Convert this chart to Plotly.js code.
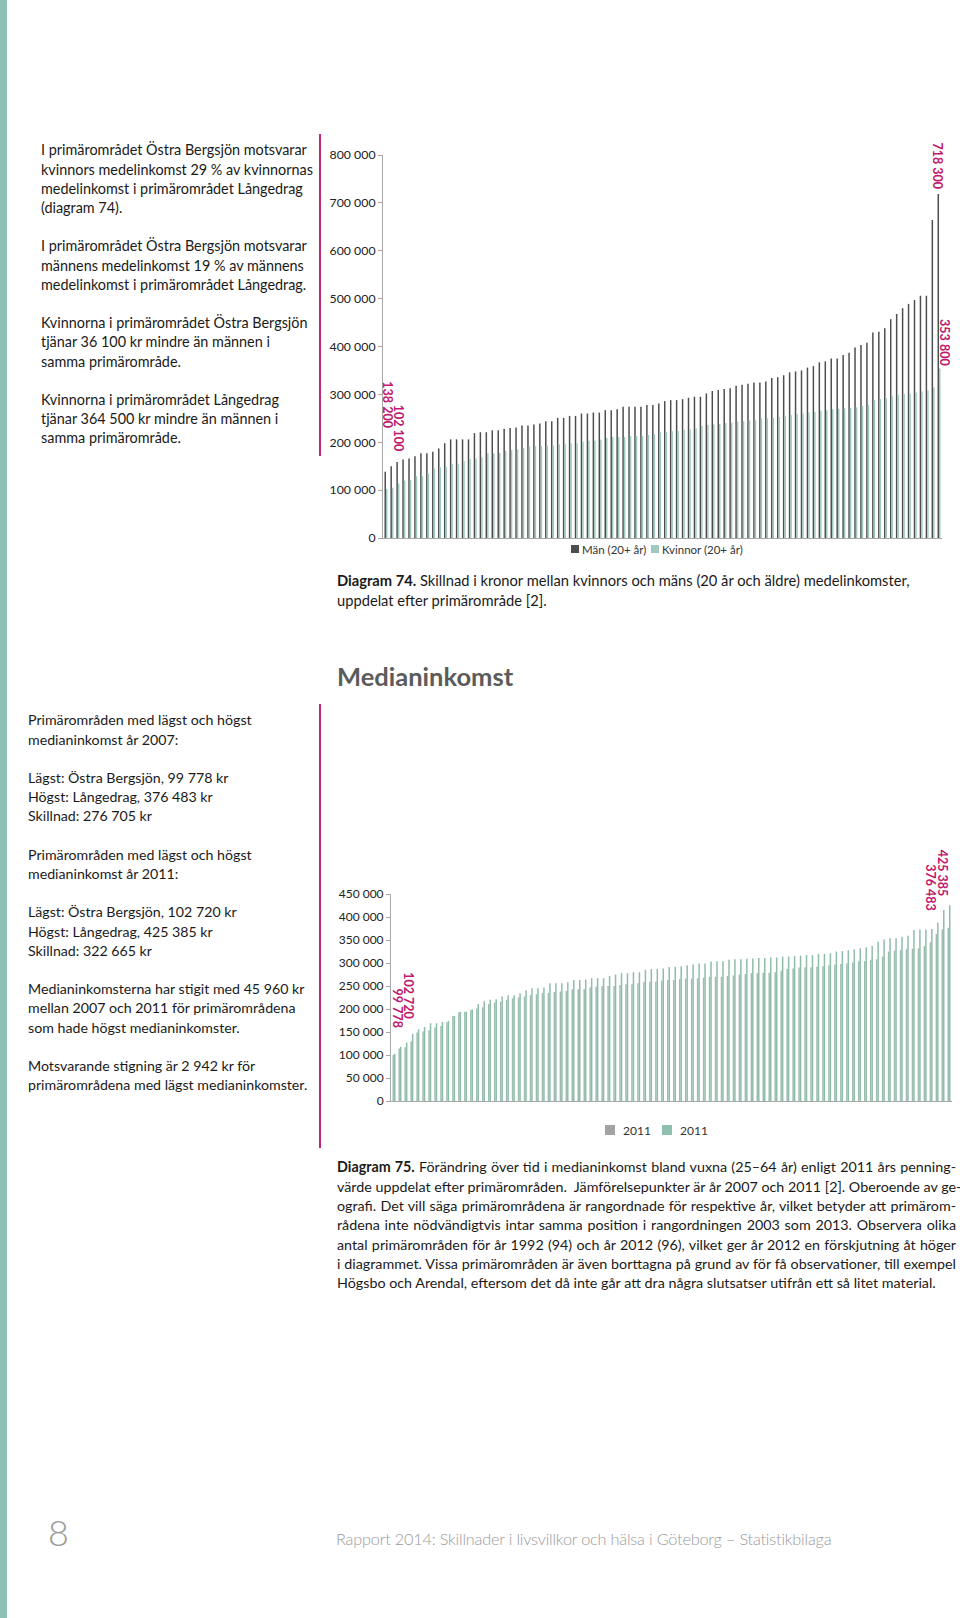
<!DOCTYPE html>
<html>
<head>
<meta charset="utf-8">
<script src="https://cdn.plot.ly/plotly-3.0.1.min.js"></script>
<style>
  html, body { margin:0; padding:0; background:#fff; }
  #page { position:relative; width:960px; height:1618px; overflow:hidden; background:#fff;
          font-family: Lato, "Open Sans", "DejaVu Sans", sans-serif; color:#1a1a1a; }
  #chart { position:absolute; left:0; top:0; width:960px; height:1618px; }
  .txt { position:absolute; font-size:14px; line-height:19.2px; white-space:nowrap; }
  .cap { position:absolute; font-size:14px; line-height:19.3px; }
  .cap div { white-space:nowrap; }
  .just div { text-align:justify; text-align-last:justify; }
  .just div.last { text-align-last:left; }
</style>
</head>
<body>
<div id="page">
  <div id="chart"></div>

  <div class="txt" style="left:41px; top:140.4px; font-size:14.4px;">
    I primärområdet Östra Bergsjön motsvarar<br>
    kvinnors medelinkomst 29 % av kvinnornas<br>
    medelinkomst i primärområdet Långedrag<br>
    (diagram 74).<br><br>
    I primärområdet Östra Bergsjön motsvarar<br>
    männens medelinkomst 19 % av männens<br>
    medelinkomst i primärområdet Långedrag.<br><br>
    Kvinnorna i primärområdet Östra Bergsjön<br>
    tjänar 36 100 kr mindre än männen i<br>
    samma primärområde.<br><br>
    Kvinnorna i primärområdet Långedrag<br>
    tjänar 364 500 kr mindre än männen i<br>
    samma primärområde.
  </div>

  <div class="cap" style="left:337px; top:571.4px; line-height:19.2px; font-size:14.7px;">
    <div><b>Diagram 74.</b> Skillnad i kronor mellan kvinnors och mäns (20 år och äldre) medelinkomster,</div>
    <div>uppdelat efter primärområde [2].</div>
  </div>

  <div style="position:absolute; left:337px; top:661px; font-size:25.5px; line-height:30px; font-weight:700; color:#5b5b5b;">Medianinkomst</div>

  <div class="txt" style="left:28px; top:710.4px; font-size:14.2px;">
    Primärområden med lägst och högst<br>
    medianinkomst år 2007:<br><br>
    Lägst: Östra Bergsjön, 99 778 kr<br>
    Högst: Långedrag, 376 483 kr<br>
    Skillnad: 276 705 kr<br><br>
    Primärområden med lägst och högst<br>
    medianinkomst år 2011:<br><br>
    Lägst: Östra Bergsjön, 102 720 kr<br>
    Högst: Långedrag, 425 385 kr<br>
    Skillnad: 322 665 kr<br><br>
    Medianinkomsterna har stigit med 45 960 kr<br>
    mellan 2007 och 2011 för primärområdena<br>
    som hade högst medianinkomster.<br><br>
    Motsvarande stigning är 2 942 kr för<br>
    primärområdena med lägst medianinkomster.
  </div>

  <div class="cap just" style="left:337px; top:1157.4px; width:619px; font-size:14.3px;">
    <div><b>Diagram 75.</b> Förändring över tid i medianinkomst bland vuxna (25–64 år) enligt 2011 års penning-</div>
    <div>värde uppdelat efter primärområden.&nbsp; Jämförelsepunkter är år 2007 och 2011 [2]. Oberoende av ge-</div>
    <div>ografi. Det vill säga primärområdena är rangordnade för respektive år, vilket betyder att primärom-</div>
    <div>rådena inte nödvändigtvis intar samma position i rangordningen 2003 som 2013. Observera olika</div>
    <div>antal primärområden för år 1992 (94) och år 2012 (96), vilket ger år 2012 en förskjutning åt höger</div>
    <div>i diagrammet. Vissa primärområden är även borttagna på grund av för få observationer, till exempel</div>
    <div class="last">Högsbo och Arendal, eftersom det då inte går att dra några slutsatser utifrån ett så litet material.</div>
  </div>

  <div style="position:absolute; left:48px; top:1512px; font-size:36px; line-height:40px; font-weight:300; color:#9a9a9a;">8</div>
  <div style="position:absolute; left:336px; top:1529px; font-size:16.3px; line-height:20px; font-weight:300; color:#9a9a9a; white-space:nowrap; letter-spacing:-0.2px;">Rapport 2014: Skillnader i livsvillkor och hälsa i Göteborg – Statistikbilaga</div>
</div>

<script>
// ---------- Diagram 74: medelinkomst per primärområde (rangordnat) ----------
const menIncome = [138200,150000,159000,164000,166000,171000,177000,177000,180000,187000,
  198000,206000,206000,206000,206000,219000,221000,221000,225000,225000,
  228000,230000,231000,235000,235000,237000,239000,244000,244000,251000,
  251000,255000,255000,260000,260000,262000,262000,267000,267000,269000,
  274000,274000,274000,274000,278000,278000,281000,
  286000,288000,288000,290000,293000,295000,295000,302000,307000,309000,
  311000,313000,318000,320000,322000,325000,325000,327000,334000,336000,
  340000,346000,348000,350000,356000,359000,367000,369000,375000,375000,
  382000,387000,398000,403000,408000,429000,431000,438000,457000,468000,
  480000,489000,497000,506000,506000,664000,718300];
const womenIncome = [102100,105000,114000,120000,121000,129000,129000,134000,145000,148000,
  149000,155000,155000,161000,165000,166000,168000,177000,177000,178000,
  182000,184000,185000,188000,191000,192000,192000,193000,193000,196000,
  196000,198000,198000,201000,203000,203000,205000,209000,211000,211000,
  211000,213000,213000,213000,215000,217000,221000,
  222000,223000,223000,226000,227000,229000,234000,236000,237000,238000,
  240000,241000,243000,244000,246000,246000,250000,250000,251000,253000,
  255000,257000,259000,260000,262000,263000,266000,267000,269000,270000,
  271000,272000,273000,276000,278000,288000,290000,292000,297000,299000,
  301000,302000,304000,306000,308000,315000,353800];
const seriesNames74 = ["Män (20+ år)", "Kvinnor (20+ år)"];
const yTicks74 = [0,100000,200000,300000,400000,500000,600000,700000,800000];

// ---------- Diagram 75: medianinkomst 25–64 år (rangordnat per år) ----------
const median2007 = [99778,114000,117000,130000,149000,151000,154000,160000,163000,171000,
  185000,193000,194000,198000,201000,204000,211000,214000,216000,220000,
  223000,225000,227000,230000,232000,235000,235000,237000,238000,239000,
  243000,243000,243000,247000,249000,250000,250000,250000,252000,254000,
  254000,256000,258000,259000,259000,262000,263000,263000,265000,266000,
  266000,267000,268000,270000,270000,270000,272000,273000,275000,276000,
  278000,278000,279000,279000,280000,283000,287000,288000,290000,291000,
  291000,292000,293000,295000,296000,298000,299000,301000,304000,304000,
  307000,308000,314000,325000,327000,328000,330000,331000,332000,337000,
  345000,363000,373000,376483];
const median2011 = [102720,118000,127000,146000,156000,161000,169000,169000,172000,174000,
  185000,194000,194000,199000,211000,217000,220000,221000,227000,230000,
  230000,234000,241000,245000,245000,247000,256000,256000,256000,258000,
  263000,263000,264000,267000,267000,267000,272000,275000,278000,278000,
  280000,280000,285000,287000,287000,288000,291000,292000,293000,295000,
  297000,299000,299000,303000,304000,304000,307000,308000,308000,309000,
  310000,311000,311000,312000,312000,314000,314000,315000,316000,317000,
  317000,320000,320000,321000,325000,326000,328000,330000,332000,334000,
  337000,346000,351000,354000,354000,357000,359000,372000,373000,373000,
  374000,388000,415000,425385];
const seriesNames75 = ["2011", "2011"];
const yTicks75 = [0,50000,100000,150000,200000,250000,300000,350000,400000,450000];

// ---------- helpers (page pixels -> paper) ----------
const W = 960, H = 1618;
const px = x => x / W;
const py = y => 1 - y / H;
const idx74 = menIncome.map((_, i) => i);
const idx75 = median2007.map((_, i) => i);
const fmt = v => String(v).replace(/\B(?=(\d{3})+(?!\d))/g, " ");

const MAG = "#c0186c";
const FONT = 'Lato, "Open Sans", "DejaVu Sans", sans-serif';

const traces = [
  { type: "bar", x: idx74, y: menIncome, name: seriesNames74[0], xaxis: "x", yaxis: "y",
    marker: { color: "#4d4d4d", line: { width: 0 } }, hoverinfo: "none" },
  { type: "bar", x: idx74, y: womenIncome, name: seriesNames74[1], xaxis: "x", yaxis: "y",
    marker: { color: "#9fc9be", line: { width: 0 } }, hoverinfo: "none" },
  { type: "bar", x: idx75, y: median2007, name: "2007", xaxis: "x2", yaxis: "y2",
    marker: { color: "#9dbdb0", line: { width: 0 } }, hoverinfo: "none" },
  { type: "bar", x: idx75, y: median2011, name: "2011", xaxis: "x2", yaxis: "y2",
    marker: { color: "#8fbca9", line: { width: 0 } }, hoverinfo: "none" }
];

const rotLabel = (xref, yref, x, y, text, xshift, yshift) => ({
  xref, yref, x, y, text, textangle: 90, showarrow: false,
  xanchor: "center", yanchor: "bottom", xshift, yshift,
  font: { family: FONT, size: 12.5, color: MAG, weight: 700 }
});

const n74 = menIncome.length - 1;
const n75 = median2011.length - 1;

const annotations = [
  rotLabel("x", "y", n74, menIncome[n74], "<b>" + fmt(menIncome[n74]) + "</b>", -2, 3),
  rotLabel("x", "y", n74, womenIncome[n74], "<b>" + fmt(womenIncome[n74]) + "</b>", 6, 1),
  rotLabel("x", "y", 0, menIncome[0], "<b>" + fmt(menIncome[0]) + "</b>", 2, 41),
  rotLabel("x", "y", 0, womenIncome[0], "<b>" + fmt(womenIncome[0]) + "</b>", 12, 35),
  rotLabel("x2", "y2", n75, median2011[n75], "<b>" + fmt(median2011[n75]) + "</b>", -7, 7),
  rotLabel("x2", "y2", n75, median2007[n75], "<b>" + fmt(median2007[n75]) + "</b>", -18, 15),
  rotLabel("x2", "y2", 0, median2011[0], "<b>" + fmt(median2011[0]) + "</b>", 15, 32),
  rotLabel("x2", "y2", 0, median2007[0], "<b>" + fmt(median2007[0]) + "</b>", 3, 25),
  // custom legend texts
  { xref: "paper", yref: "paper", x: px(580), y: py(549), text: seriesNames74[0], showarrow: false,
    xanchor: "left", yanchor: "middle", font: { family: FONT, size: 11.5, color: "#333" } },
  { xref: "paper", yref: "paper", x: px(660), y: py(549), text: seriesNames74[1], showarrow: false,
    xanchor: "left", yanchor: "middle", font: { family: FONT, size: 11.5, color: "#333" } },
  { xref: "paper", yref: "paper", x: px(621), y: py(1130), text: seriesNames75[0], showarrow: false,
    xanchor: "left", yanchor: "middle", font: { family: FONT, size: 12, color: "#333" } },
  { xref: "paper", yref: "paper", x: px(678), y: py(1130), text: seriesNames75[1], showarrow: false,
    xanchor: "left", yanchor: "middle", font: { family: FONT, size: 12, color: "#333" } }
];

const shapes = [
  // teal page edge
  { type: "rect", xref: "paper", yref: "paper", x0: 0, x1: px(7), y0: 0, y1: 1,
    fillcolor: "#8cc1b4", line: { width: 0 }, layer: "below" },
  // magenta side rules
  { type: "line", xref: "paper", yref: "paper", x0: px(320), x1: px(320), y0: py(134), y1: py(456),
    line: { color: "#c2257a", width: 2 } },
  { type: "line", xref: "paper", yref: "paper", x0: px(320), x1: px(320), y0: py(704), y1: py(1148),
    line: { color: "#c2257a", width: 2 } },
  // legend swatches
  { type: "rect", xref: "paper", yref: "paper", x0: px(571), x1: px(579), y0: py(553), y1: py(545),
    fillcolor: "#4d4d4d", line: { width: 0 } },
  { type: "rect", xref: "paper", yref: "paper", x0: px(651), x1: px(659), y0: py(553), y1: py(545),
    fillcolor: "#9fc9be", line: { width: 0 } },
  { type: "rect", xref: "paper", yref: "paper", x0: px(605), x1: px(615), y0: py(1135), y1: py(1125),
    fillcolor: "#a3a3a3", line: { width: 0 } },
  { type: "rect", xref: "paper", yref: "paper", x0: px(662), x1: px(672), y0: py(1135), y1: py(1125),
    fillcolor: "#8fc0ad", line: { width: 0 } }
];

const yAxisCommon = {
  showgrid: false, zeroline: false, showline: true, linecolor: "#a8a8a8", linewidth: 1,
  ticks: "outside", ticklen: 4, tickcolor: "#a8a8a8", exponentformat: "none",
  separatethousands: true, tickfont: { family: FONT, size: 12.3, color: "#222" }, fixedrange: true
};
const xAxisCommon = {
  showgrid: false, zeroline: false, showline: true, linecolor: "#a8a8a8", linewidth: 1,
  ticks: "", showticklabels: false, fixedrange: true
};

const layout = {
  width: W, height: H,
  margin: { l: 0, r: 0, t: 0, b: 0, pad: 0 },
  paper_bgcolor: "rgba(0,0,0,0)", plot_bgcolor: "rgba(0,0,0,0)",
  separators: ", ",
  showlegend: false,
  barmode: "group", bargap: 0.5, bargroupgap: 0,
  font: { family: FONT, color: "#222" },
  xaxis: Object.assign({}, xAxisCommon, { domain: [px(383), px(942)], range: [-0.5, n74 + 0.5], anchor: "y" }),
  yaxis: Object.assign({}, yAxisCommon, { domain: [py(538), py(155)], range: [0, 800000],
    tickvals: yTicks74, anchor: "x" }),
  xaxis2: Object.assign({}, xAxisCommon, { domain: [px(391), px(952)], range: [-0.5, n75 + 0.5], anchor: "y2" }),
  yaxis2: Object.assign({}, yAxisCommon, { domain: [py(1101), py(894)], range: [0, 450000],
    tickvals: yTicks75, anchor: "x2", tickfont: { family: FONT, size: 12, color: "#222" } }),
  annotations, shapes
};

Plotly.newPlot("chart", traces, layout, { staticPlot: true, displayModeBar: false });
</script>
</body>
</html>
